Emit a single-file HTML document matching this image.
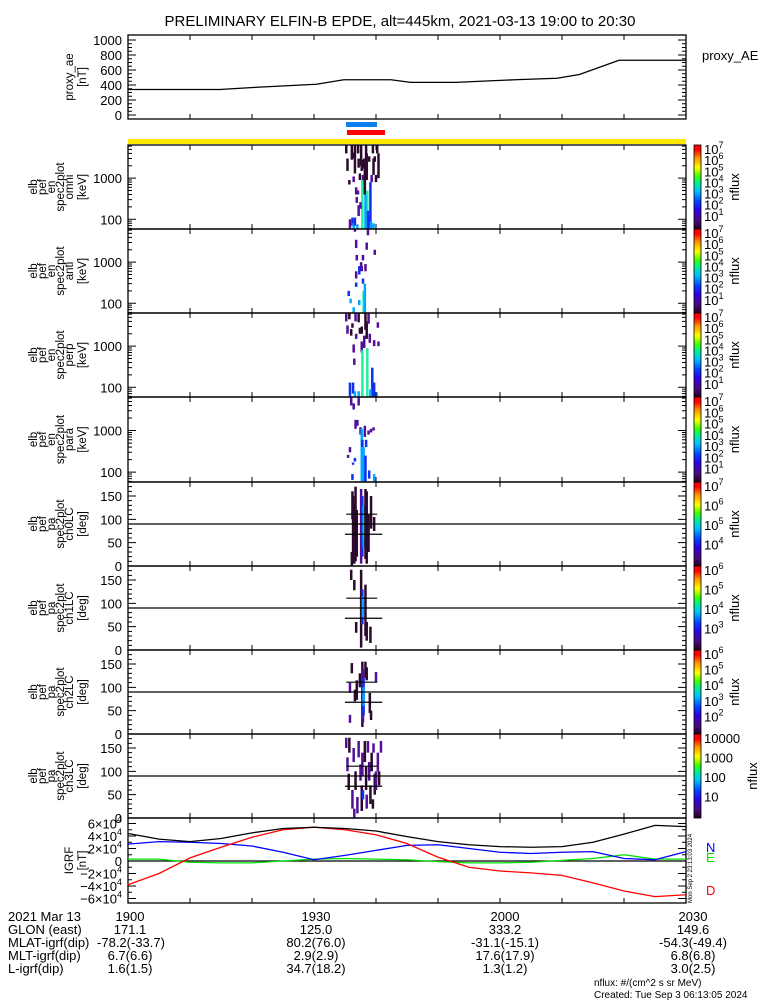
<!DOCTYPE html>
<html><head><meta charset="utf-8"><title>ELFIN-B EPDE</title>
<style>
html,body{margin:0;padding:0;background:#fff;}
svg{display:block;font-family:"Liberation Sans",sans-serif;}
text{fill:#000;}
</style></head>
<body>
<svg id="chart" xmlns="http://www.w3.org/2000/svg" width="775" height="1000" viewBox="0 0 775 1000">
<rect x="0" y="0" width="775" height="1000" fill="#fff"/>
<text x="400" y="26" font-size="15" text-anchor="middle">PRELIMINARY ELFIN-B EPDE, alt=445km, 2021-03-13 19:00 to 20:30</text>
<text x="702" y="60" font-size="13">proxy_AE</text>
<g font-size="13">
<text x="8" y="921">2021 Mar 13</text>
<text x="8" y="934">GLON (east)</text>
<text x="8" y="947">MLAT-igrf(dip)</text>
<text x="8" y="960">MLT-igrf(dip)</text>
<text x="8" y="973">L-igrf(dip)</text>
<g text-anchor="middle">
<text x="130" y="921">1900</text><text x="316" y="921">1930</text><text x="505" y="921">2000</text><text x="693" y="921">2030</text>
<text x="130" y="934">171.1</text><text x="316" y="934">125.0</text><text x="505" y="934">333.2</text><text x="693" y="934">149.6</text>
<text x="131" y="947">-78.2(-33.7)</text><text x="316" y="947">80.2(76.0)</text><text x="505" y="947">-31.1(-15.1)</text><text x="693" y="947">-54.3(-49.4)</text>
<text x="130" y="960">6.7(6.6)</text><text x="316" y="960">2.9(2.9)</text><text x="505" y="960">17.6(17.9)</text><text x="693" y="960">6.8(6.8)</text>
<text x="130" y="973">1.6(1.5)</text><text x="316" y="973">34.7(18.2)</text><text x="505" y="973">1.3(1.2)</text><text x="693" y="973">3.0(2.5)</text>
</g></g>
<text x="594" y="986" font-size="10">nflux: #/(cm^2 s sr MeV)</text>
<text x="594" y="998" font-size="10">Created: Tue Sep  3 06:13:05 2024</text>
<text x="706" y="852" font-size="13" style="fill:#0000ff">N</text>
<text x="706" y="862" font-size="13" style="fill:#00dd00">E</text>
<text x="706" y="895" font-size="13" style="fill:#ff0000">D</text>
<text transform="translate(692,903) rotate(-90)" font-size="6">Mon Sep  2 23:13:03 2024</text>
<rect x="128" y="139" width="558" height="5" fill="#ffe800"/>
<rect x="346" y="122" width="31" height="5" fill="#0a80f0"/>
<rect x="347" y="130" width="38" height="5" fill="#ff0000"/>
<defs>
<linearGradient id="cb" x1="0" y1="1" x2="0" y2="0">
<stop offset="0" stop-color="#200020"/><stop offset="0.1" stop-color="#4a0a80"/><stop offset="0.22" stop-color="#3000e0"/>
<stop offset="0.32" stop-color="#0040ff"/><stop offset="0.45" stop-color="#00c0ff"/><stop offset="0.55" stop-color="#00f090"/>
<stop offset="0.63" stop-color="#40ff00"/><stop offset="0.73" stop-color="#ffff00"/><stop offset="0.85" stop-color="#ff9000"/>
<stop offset="0.94" stop-color="#ff0000"/><stop offset="1" stop-color="#ff0000"/>
</linearGradient>
</defs>
<g id="layer"></g>
</svg>
<script>
// ---- data ----
const aeTimes=[0,14.8,20.8,30.4,34.8,42.4,45.6,52.8,62.4,69.2,72.8,79.2,90];
const aeValues=[340,340,370,410,470,470,435,435,470,490,540,730,730];
const igrfTimes=[0,5,10,15,20,25,30,35,40,45,50,55,60,65,70,75,80,85,90];
const igrfT=[4.4,3.5,3.1,3.6,4.5,5.2,5.4,5.2,4.8,3.9,3.1,2.6,2.3,2.2,2.3,3.0,4.3,5.7,5.5];
const igrfN=[2.7,3.1,3.0,2.8,2.4,1.4,0.2,0.9,1.7,2.5,2.6,2.0,1.4,1.2,1.4,1.5,0.4,0.2,1.5];
const igrfE=[0.3,0.3,-0.2,-0.3,-0.3,0,0.3,0.4,0.3,0.2,-0.1,-0.3,-0.3,-0.2,0.1,0.4,1.0,0.3,0.3];
const igrfD=[-3.8,-2.0,0.5,2.2,3.8,5.0,5.4,5.0,4.2,2.8,0.6,-1.0,-1.6,-1.9,-2.3,-3.5,-4.8,-5.7,-5.4];
const aeTicks=[0,200,400,600,800,1000];
const igrfTicks=[-6,-4,-2,0,2,4,6];
const paTicks=[0,50,100,150];
const enTicks=[100,1000];
const levelColors=['#2b0a2e','#52109a','#1030f0','#00a8ff','#20f0a0'];
// spectrogram dashes: [minute, low, high, level]
const omniDashes=[[35.0,4000,6400,0],[35.2,1500,3000,0],[35.5,700,900,0],[35.9,2800,6400,0],[36.1,3000,4200,0],[36.2,800,1100,1],[36.4,1300,6400,0],[36.6,400,600,1],[36.7,250,350,1],[36.9,4000,6400,0],[37.0,1800,3000,0],[37.2,900,1300,0],[37.4,2000,6400,0],[37.5,1500,2800,0],[37.7,700,1200,1],[37.6,60,900,4],[37.9,1700,3000,0],[38.0,400,1800,0],[38.2,2800,6400,0],[38.3,900,4000,0],[38.4,60,500,4],[38.5,60,160,2],[38.7,2500,3400,0],[38.8,70,120,2],[38.9,60,800,2],[39.1,800,1200,1],[39.3,4000,6400,0],[39.4,1200,3000,0],[39.6,2500,3400,0],[39.8,800,1200,0],[40.0,4000,6400,0],[40.2,1000,4000,0],[36.0,70,110,2],[36.2,60,80,3],[36.4,70,110,2],[36.9,400,500,1],[37.0,120,220,1],[37.3,180,260,1],[38.1,60,400,3],[39.0,60,90,3],[39.4,60,80,3],[36.8,60,75,3],[35.6,60,100,1]];
const antiDashes=[[36.4,5500,6400,1],[36.6,2200,3500,1],[36.7,1100,1500,1],[36.6,400,600,1],[36.6,250,320,2],[37.1,500,800,2],[37.4,750,1000,1],[37.5,600,800,1],[37.7,1100,1500,1],[37.7,300,400,2],[37.8,60,200,4],[38.0,60,300,3],[38.1,600,900,1],[38.3,2000,3000,1],[38.5,4500,6400,1],[39.6,1500,2000,1],[35.4,150,200,2],[35.7,100,130,3],[36.2,60,80,3],[37.1,90,120,3]];
const perpDashes=[[35.0,4000,6400,1],[35.2,2000,3200,1],[35.5,4500,6400,0],[35.8,1800,2600,0],[36.2,700,1100,1],[36.0,2800,3600,0],[36.3,350,500,1],[36.5,4000,6400,1],[36.6,1500,2000,1],[37.0,3800,6400,0],[37.2,2000,2800,0],[37.5,700,1300,1],[37.6,60,800,4],[37.5,2000,3000,0],[37.9,900,1800,1],[38.1,2500,6400,0],[38.3,1500,4000,0],[38.4,60,900,4],[38.6,3500,6400,1],[38.8,1200,2000,1],[39.2,60,300,2],[39.5,1000,1400,1],[40.2,1000,1300,1],[35.6,60,130,2],[36.1,70,130,2],[36.4,60,80,3],[37.0,60,80,3],[38.9,60,90,3],[39.5,60,130,2],[39.9,60,75,3],[40.1,2800,3800,1]];
const paraDashes=[[35.8,4000,6400,1],[36.2,3200,4500,1],[36.5,1100,1800,1],[36.8,1300,1800,1],[37.0,4000,6400,1],[37.3,800,1200,1],[37.5,60,1100,3],[37.6,400,600,2],[37.8,60,400,3],[38.0,700,1300,1],[38.1,60,250,2],[38.2,400,600,2],[38.6,800,1000,1],[39.0,900,1100,1],[39.4,1000,1200,1],[35.6,300,400,1],[35.3,220,260,1],[36.4,180,220,2],[36.0,65,90,2],[36.1,150,170,2],[38.7,70,110,2],[39.5,60,90,3]];
const ch0Dashes=[[36.1,5,150,0],[36.3,5,135,0],[36.5,10,170,0],[36.7,20,120,0],[37.4,5,165,1],[37.6,20,150,2],[37.8,40,130,3],[38.0,60,110,4],[38.1,15,165,0],[38.3,5,160,0],[38.6,30,110,0],[39.0,80,150,0],[39.5,75,105,0],[35.9,0,30,0],[36.0,100,160,0]];
const ch1Dashes=[[35.8,150,172,0],[36.3,128,150,0],[36.6,37,60,0],[37.4,5,172,0],[37.6,55,130,2],[37.7,70,115,3],[38.1,30,140,0],[38.3,20,60,0],[38.9,15,50,0]];
const ch2Dashes=[[35.6,88,110,1],[35.9,130,152,0],[35.6,24,41,1],[36.4,70,95,0],[36.7,73,115,0],[37.2,100,130,0],[37.6,15,155,0],[37.7,25,140,1],[37.8,40,120,2],[37.8,60,100,3],[38.1,120,155,0],[38.3,115,143,0],[38.8,45,88,0],[39.0,30,50,0],[39.8,111,133,1]];
const ch3Dashes=[[35.0,150,172,1],[35.5,140,172,0],[35.4,60,95,0],[35.2,100,130,1],[36.0,20,60,1],[36.2,120,150,1],[36.5,60,100,0],[36.8,10,45,1],[37.0,130,165,1],[37.3,80,115,1],[37.5,15,70,0],[37.6,90,140,1],[37.7,40,60,2],[38.0,120,165,0],[38.2,60,110,0],[38.3,20,50,1],[38.5,140,165,1],[38.7,80,120,1],[38.9,30,70,0],[39.1,100,140,0],[39.4,140,160,1],[39.6,50,95,0],[39.8,60,100,1],[40.1,100,140,1],[40.3,70,100,0],[40.6,140,165,1],[39.3,20,40,0],[36.3,0,20,1]];
const lossCone=[68,111];
const lossConeSpan=[[35.0,41.0],[35.2,40.2]];
const cbLabels=[['7','6','5','4','3','2','1'],['7','6','5','4','3','2','1'],['7','6','5','4','3','2','1'],['7','6','5','4','3','2','1'],['7','6','5','4'],['6','5','4','3'],['6','5','4','3','2'],['10000','1000','100','10']];

// ---- layout ----
const X0=128,X1=686,TMAX=90;
const layer=document.getElementById('layer');
const NS='http://www.w3.org/2000/svg';
function mk(tag,attrs){const e=document.createElementNS(NS,tag);for(const k in attrs)e.setAttribute(k,attrs[k]);layer.appendChild(e);return e;}
const xT=t=>X0+(X1-X0)*t/TMAX;

function frame(top,bot,name){
  const r=mk('rect',{x:X0,y:top,width:X1-X0,height:bot-top,fill:'none',stroke:'#000','stroke-width':1.3});
  
  
  for(let t=10;t<TMAX;t+=10){
    const l=mk('path',{d:`M${xT(t)},${top}v5M${xT(t)},${bot}v-5`,stroke:'#000','stroke-width':1});
    
    
  }
}
function ytick(y,len,name){
  const l=mk('path',{d:`M${X0},${y}h${len}M${X1},${y}h${-len}`,stroke:'#000','stroke-width':1});
  
  
}
function label(x,y,txt,sup,name,anchor){
  const t=mk('text',{x:x,y:y,'font-size':13,'text-anchor':anchor||'end'});
  
  
  t.textContent=txt;
  if(sup){const s=document.createElementNS(NS,'tspan');s.setAttribute('dy',-6);s.setAttribute('font-size',9);s.textContent=sup;t.appendChild(s);}
  return t;
}
function ylab(lines,top,bot,name){
  const xs=[37,46,55,64,73,86];
  const my=(top+bot)/2;
  lines.forEach((s,i)=>{
    const t=mk('text',{transform:`translate(${xs[6-lines.length+i]},${my}) rotate(-90)`,'font-size':11.5,'text-anchor':'middle'});
    
    
    t.textContent=s;
  });
}
function polyline(times,vals,yf,color,name){
  const p=mk('polyline',{points:times.map((t,i)=>xT(t)+','+yf(vals[i])).join(' '),fill:'none',stroke:color,'stroke-width':1.3});
  
  
}

// proxy AE panel
(function(){
  const top=35,bot=119;
  const yA=v=>115-v*0.075;
  frame(top,bot,'proxy-ae');
  for(let v=0;v<=1000;v+=50) ytick(yA(v),v%200===0?8:4,'proxy-ae-y-tick');
  aeTicks.forEach(v=>label(122,yA(v)+5,String(v),null,'proxy-ae-y-tick-label'));
  ylab(['proxy_ae','[nT]'],top,bot,'proxy-ae-y-title');
  polyline(aeTimes,aeValues,yA,'#000','proxy-ae-line');
})();

// spectrogram & PA panels
const panels=[
 {top:145,bot:229,kind:'en',lines:['elb','pef','en','spec2plot','omni','[keV]'],d:omniDashes,name:'omni'},
 {top:229,bot:313,kind:'en',lines:['elb','pef','en','spec2plot','anti','[keV]'],d:antiDashes,name:'anti'},
 {top:313,bot:397,kind:'en',lines:['elb','pef','en','spec2plot','perp','[keV]'],d:perpDashes,name:'perp'},
 {top:397,bot:482,kind:'en',lines:['elb','pef','en','spec2plot','para','[keV]'],d:paraDashes,name:'para'},
 {top:482,bot:566,kind:'pa',lines:['elb','pef','pa','spec2plot','ch0LC','[deg]'],d:ch0Dashes,name:'ch0lc'},
 {top:566,bot:650,kind:'pa',lines:['elb','pef','pa','spec2plot','ch1LC','[deg]'],d:ch1Dashes,name:'ch1lc'},
 {top:650,bot:734,kind:'pa',lines:['elb','pef','pa','spec2plot','ch2LC','[deg]'],d:ch2Dashes,name:'ch2lc'},
 {top:734,bot:818,kind:'pa',lines:['elb','pef','pa','spec2plot','ch3LC','[deg]'],d:ch3Dashes,name:'ch3lc'}
];
const EL=Math.log10(58),EH=Math.log10(6400);
panels.forEach((p,pi)=>{
  const h=p.bot-p.top;
  const yf=p.kind==='en'?(v=>p.bot-(Math.log10(v)-EL)/(EH-EL)*h):(v=>p.bot-v*h/180);
  p.d.forEach(d=>{
    const y1=yf(Math.min(d[2],6400)),y2=yf(Math.max(d[1],p.kind==='en'?58:0));
    const r=mk('rect',{x:xT(d[0]),y:y1,width:2.5,height:Math.max(1.5,y2-y1),fill:levelColors[d[3]]});
    
    
  });
  frame(p.top,p.bot,p.name);
  if(p.kind==='en'){
    for(let dec=10;dec<=1000;dec*=10)for(let m=1;m<10;m++){const v=dec*m;if(v>58&&v<6400)ytick(yf(v),m===1?8:4,p.name+'-y-tick');}
    enTicks.forEach(v=>label(122,yf(v)+5,String(v),null,p.name+'-y-tick-label'));
  } else {
    for(let v=0;v<=180;v+=10)ytick(yf(v),v%50===0?8:4,p.name+'-y-tick');
    paTicks.forEach(v=>label(122,yf(v)+5,String(v),null,p.name+'-y-tick-label'));
    const l=mk('line',{x1:X0,x2:X1,y1:yf(90),y2:yf(90),stroke:'#000','stroke-width':1.2});
    
    
    lossCone.forEach((a,i)=>{
      const c=mk('line',{x1:xT(lossConeSpan[i][0]),x2:xT(lossConeSpan[i][1]),y1:yf(a),y2:yf(a),stroke:'#000','stroke-width':1.2});
      
      
    });
  }
  ylab(p.lines,p.top,p.bot,p.name+'-y-title');
  const cb=mk('rect',{x:694,y:p.top,width:7,height:h,fill:'url(#cb)',stroke:'#000','stroke-width':0.8});
  
  
  const labs=cbLabels[pi];
  labs.forEach((s,i)=>{
    const y=p.top+9+i*(h-6)/labs.length;
    if(s.length>1) label(704,y,s,null,p.name+'-colorbar-label','start');
    else label(704,y,'10',s,p.name+'-colorbar-label','start');
  });
  const nf=mk('text',{transform:`translate(${pi===7?757:739},${(p.top+p.bot)/2}) rotate(-90)`,'font-size':13,'text-anchor':'middle'});
  
  
  nf.textContent='nflux';
});

// IGRF panel
(function(){
  const top=818,bot=903;
  const yI=v=>861-v*6.25;
  frame(top,bot,'igrf');
  for(let v=-6;v<=6;v+=1) ytick(yI(v),v%2===0?8:4,'igrf-y-tick');
  igrfTicks.forEach(v=>{ if(v===0) label(122,yI(v)+5,'0',null,'igrf-y-tick-label'); else label(122,yI(v)+5,(v<0?'\u2212':'')+Math.abs(v)+'\u00d710','4','igrf-y-tick-label');});
  const z=mk('line',{x1:X0,x2:X1,y1:yI(0),y2:yI(0),stroke:'#000','stroke-width':1.2});
  
  
  ylab(['IGRF','[nT]'],top,bot,'igrf-y-title');
  polyline(igrfTimes,igrfE,yI,'#00e000','igrf-e-line');
  polyline(igrfTimes,igrfN,yI,'#0000ff','igrf-n-line');
  polyline(igrfTimes,igrfD,yI,'#ff0000','igrf-d-line');
  polyline(igrfTimes,igrfT,yI,'#000000','igrf-total-line');
})();
</script>
</body></html>
